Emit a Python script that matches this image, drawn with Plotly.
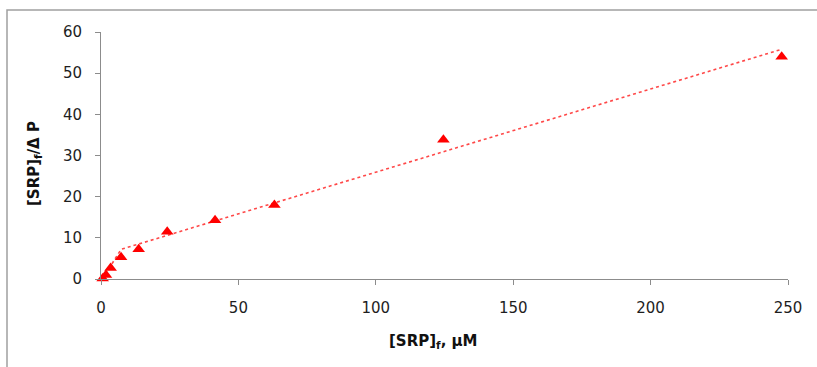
import plotly.graph_objects as go

# Data
srp_free = [0.6, 1.8, 3.5, 7.3, 13.7, 24.1, 41.5, 63.1, 124.6, 247.7]
ratio = [0.1, 1.0, 2.7, 5.3, 7.2, 11.5, 14.3, 18.0, 33.8, 54.0]

# Trend line (piecewise, as drawn in the reference)
fit_x = [0.5, 7.3, 247.7]
fit_y = [0.0, 7.2, 55.8]

x_ticks = [0, 50, 100, 150, 200, 250]
y_ticks = [0, 10, 20, 30, 40, 50, 60]

W, H = 817, 367
L, R, T, B = 101, 29, 32, 88
pw, ph = W - L - R, H - T - B

def px(x):
    return (x - L) / pw

def py(y):
    return (H - B - y) / ph

fig = go.Figure()
fig.add_trace(go.Scatter(
    x=fit_x, y=fit_y, mode="lines",
    line=dict(color="rgba(255,40,40,0.85)", width=1.6, dash="dot"),
    hoverinfo="skip", showlegend=False, cliponaxis=False))
fig.add_trace(go.Scatter(
    x=srp_free, y=ratio, mode="markers",
    marker=dict(symbol="triangle-up", size=11, color="#FF0000"),
    showlegend=False, cliponaxis=False))

tickfont = dict(family="DejaVu Sans", size=15, color="#1e1e1e")
fig.update_xaxes(
    range=[0, 250], tickvals=x_ticks, ticks="outside", ticklen=5,
    tickcolor="#8c8c8c", showline=True, linecolor="#8c8c8c", linewidth=1,
    showgrid=False, zeroline=False, tickfont=tickfont, ticklabelstandoff=10)
fig.update_yaxes(
    range=[0, 60], tickvals=y_ticks, ticks="outside", ticklen=5,
    tickcolor="#8c8c8c", showline=True, linecolor="#8c8c8c", linewidth=1,
    showgrid=False, zeroline=False, tickfont=tickfont, ticklabelstandoff=10)

titlefont = dict(family="DejaVu Sans", size=15, color="#111111")
fig.add_annotation(
    text="<b>[SRP]<sub>f</sub>, μM</b>", xref="paper", yref="paper",
    x=px(433), y=py(341), showarrow=False, font=titlefont,
    xanchor="center", yanchor="middle")
fig.add_annotation(
    text="<b>[SRP]<sub>f</sub>/Δ P</b>", xref="paper", yref="paper",
    x=px(35), y=py(164), showarrow=False, font=titlefont, textangle=-90,
    xanchor="center", yanchor="middle")

# Outer chart border (partially cut off at the right/bottom in the reference)
fig.add_shape(type="rect", xref="paper", yref="paper",
              x0=px(7), y0=py(380), x1=px(830), y1=py(10),
              line=dict(color="#a0a0a0", width=1.5), layer="below")

fig.update_layout(
    width=W, height=H, margin=dict(l=L, r=R, t=T, b=B),
    paper_bgcolor="white", plot_bgcolor="white")

fig.write_html("out.html")
